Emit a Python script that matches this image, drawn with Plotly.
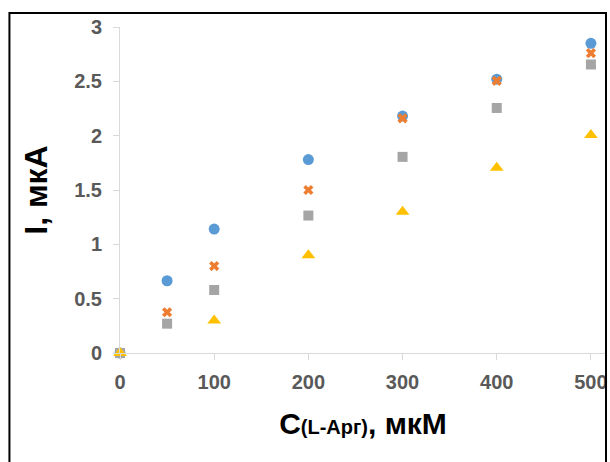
import plotly.graph_objects as go

# Concentration of L-arginine, µM
conc = [0, 50, 100, 200, 300, 400, 500]
conc_tri = [0, 100, 200, 300, 400, 500]

# Current response, µA, for four electrode series
series_1 = [0, 0.665, 1.14, 1.78, 2.18, 2.52, 2.85]
series_2 = [0, 0.375, 0.80, 1.50, 2.16, 2.505, 2.76]
series_3 = [0, 0.27, 0.58, 1.265, 1.805, 2.255, 2.655]
series_4 = [0, 0.30, 0.90, 1.30, 1.705, 2.005]

y_ticks = [0, 0.5, 1, 1.5, 2, 2.5, 3]
y_tick_text = ["0", "0.5", "1", "1.5", "2", "2.5", "3"]
x_ticks = [0, 100, 200, 300, 400, 500]

FONT = "Liberation Sans, Arial, sans-serif"

fig = go.Figure()
fig.add_trace(go.Scatter(x=conc, y=series_1, mode="markers", cliponaxis=False,
                         marker=dict(symbol="circle", size=11, color="#5B9BD5")))
fig.add_trace(go.Scatter(x=conc, y=series_2, mode="markers", cliponaxis=False,
                         marker=dict(symbol="x", size=9, color="#ED7D31")))
fig.add_trace(go.Scatter(x=conc, y=series_3, mode="markers", cliponaxis=False,
                         marker=dict(symbol="square", size=10, color="#A5A5A5")))
fig.add_trace(go.Scatter(x=conc_tri, y=series_4, mode="markers", cliponaxis=False,
                         marker=dict(symbol="triangle-up", size=12, color="#FFC000")))

axis_common = dict(
    showgrid=False, zeroline=False, showline=True, linecolor="#D9D9D9", linewidth=1,
    ticks="outside", ticklen=6, tickcolor="#D9D9D9",
    tickfont=dict(family=FONT, size=20, color="#595959", weight="bold"),
)

fig.update_xaxes(range=[0, 516], tickvals=x_ticks, ticklabelstandoff=5,
                 title=dict(text="C<span style=\"font-size:20px\">(L-Арг)</span>, мкМ",
                            font=dict(family=FONT, size=30, color="#000000", weight="bold"),
                            standoff=20),
                 **axis_common)
fig.update_yaxes(range=[0, 3], tickvals=y_ticks, ticktext=y_tick_text, ticklabelstandoff=7,
                 title=dict(text="I, мкА",
                            font=dict(family=FONT, size=32, color="#000000", weight="bold"),
                            standoff=16),
                 **axis_common)

# Outer frame around the chart area
fig.add_shape(type="rect", xref="paper", yref="paper",
              x0=-0.2275, x1=1.0, y0=-0.4, y1=1.043,
              line=dict(color="#000000", width=2), fillcolor="rgba(0,0,0,0)", layer="above")

fig.update_layout(
    width=610, height=462, showlegend=False,
    margin=dict(l=120, r=2, t=27, b=109),
    paper_bgcolor="white", plot_bgcolor="white",
)

fig.write_html("out.html")
